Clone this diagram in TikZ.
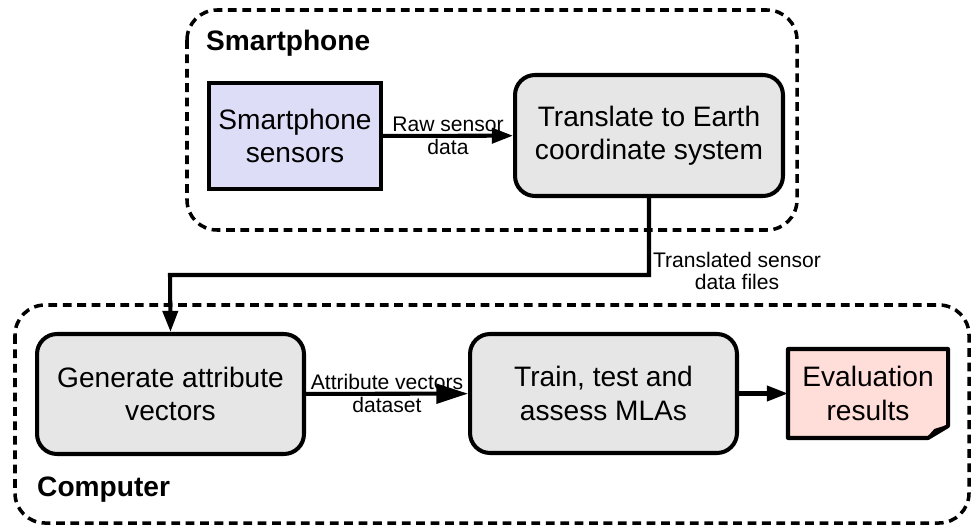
\documentclass[tikz,border=0pt]{standalone}
\usepackage{fontspec}
\setmainfont{Liberation Sans}
\usetikzlibrary{arrows.meta}
\usetikzlibrary{calc}
\usetikzlibrary{backgrounds}
\definecolor{sensorblue}{HTML}{DDDDF7}
\definecolor{stepgray}{HTML}{E6E6E6}
\definecolor{resultpink}{HTML}{FFDDD8}

\begin{document}
\begin{tikzpicture}[x=0.02cm, y=-0.02cm,
    group/.style={draw, line width=2pt, dash pattern=on 5pt off 3.2pt, rounded corners=0.6cm},
    block/.style={draw, line width=2.3pt, fill=stepgray, rounded corners=0.4cm, align=center,
        inner sep=0pt, font=\fontsize{16}{19}\selectfont},
    flow/.style={line width=2.3pt, -{Triangle[length=12pt, width=8.5pt]}},
    tag/.style={align=center, font=\fontsize{12}{13}\selectfont},
    title/.style={anchor=west, font=\bfseries\fontsize{16}{19}\selectfont}]
    \useasboundingbox (0,0) rectangle (972,527);
    % dashed groups
    \draw[group] (187,10) rectangle (797,230);
    \draw[group] (15,305) rectangle (969,523);
    \node[title] (phone) at (200,43) {Smartphone};
    \node[title] (computer) at (31,490) {Computer};
    % steps
    \node[block, fill=sensorblue, rounded corners=0pt, minimum width=3.44cm, minimum height=2.12cm]
        (sensors) at (295,136) {Smartphone\\sensors};
    \node[block, minimum width=5.36cm, minimum height=2.42cm]
        (translate) at (649,135.5) {Translate to Earth\\coordinate system};
    \node[block, minimum width=5.34cm, minimum height=2.4cm]
        (generate) at (170.5,394) {Generate attribute\\vectors};
    \node[block, minimum width=5.34cm, minimum height=2.38cm]
        (train) at (603.5,393.5) {Train, test and\\assess MLAs};
    \node[block, draw=none, fill=none, rounded corners=0pt, minimum width=3.12cm, minimum height=1.7cm]
        (results) at (868,393.5) {Evaluation\\results};
    \begin{scope}[on background layer]
        \draw[line width=2.3pt, fill=resultpink, line join=round] (results.north west)
            -- (results.north east) -- ($(results.south east)+(0,-12)$)
            -- ($(results.south east)+(-20,0)$) -- (results.south west) -- cycle;
    \end{scope}
    \draw[line width=1.4pt, line join=round] ($(results.south east)+(0,-12)$)
        -- ($(results.south east)+(-13,-8)$) -- ($(results.south east)+(-20,0)$);
    % connectors
    \draw[flow] (sensors) -- (translate) node[midway, tag] {Raw sensor\\data};
    \coordinate (turn) at (170,275);
    \draw[flow] (translate.south) |- (turn) -- (generate.north);
    \node[tag] (filesnote) at (737,271) {Translated sensor\\data files};
    \draw[line width=2.3pt, -{Triangle[length=18pt, width=11pt]}] (generate) -- (train)
        node[midway, tag] {Attribute vectors\\dataset};
    \draw[flow] (train) -- (results);
\end{tikzpicture}
\end{document}
